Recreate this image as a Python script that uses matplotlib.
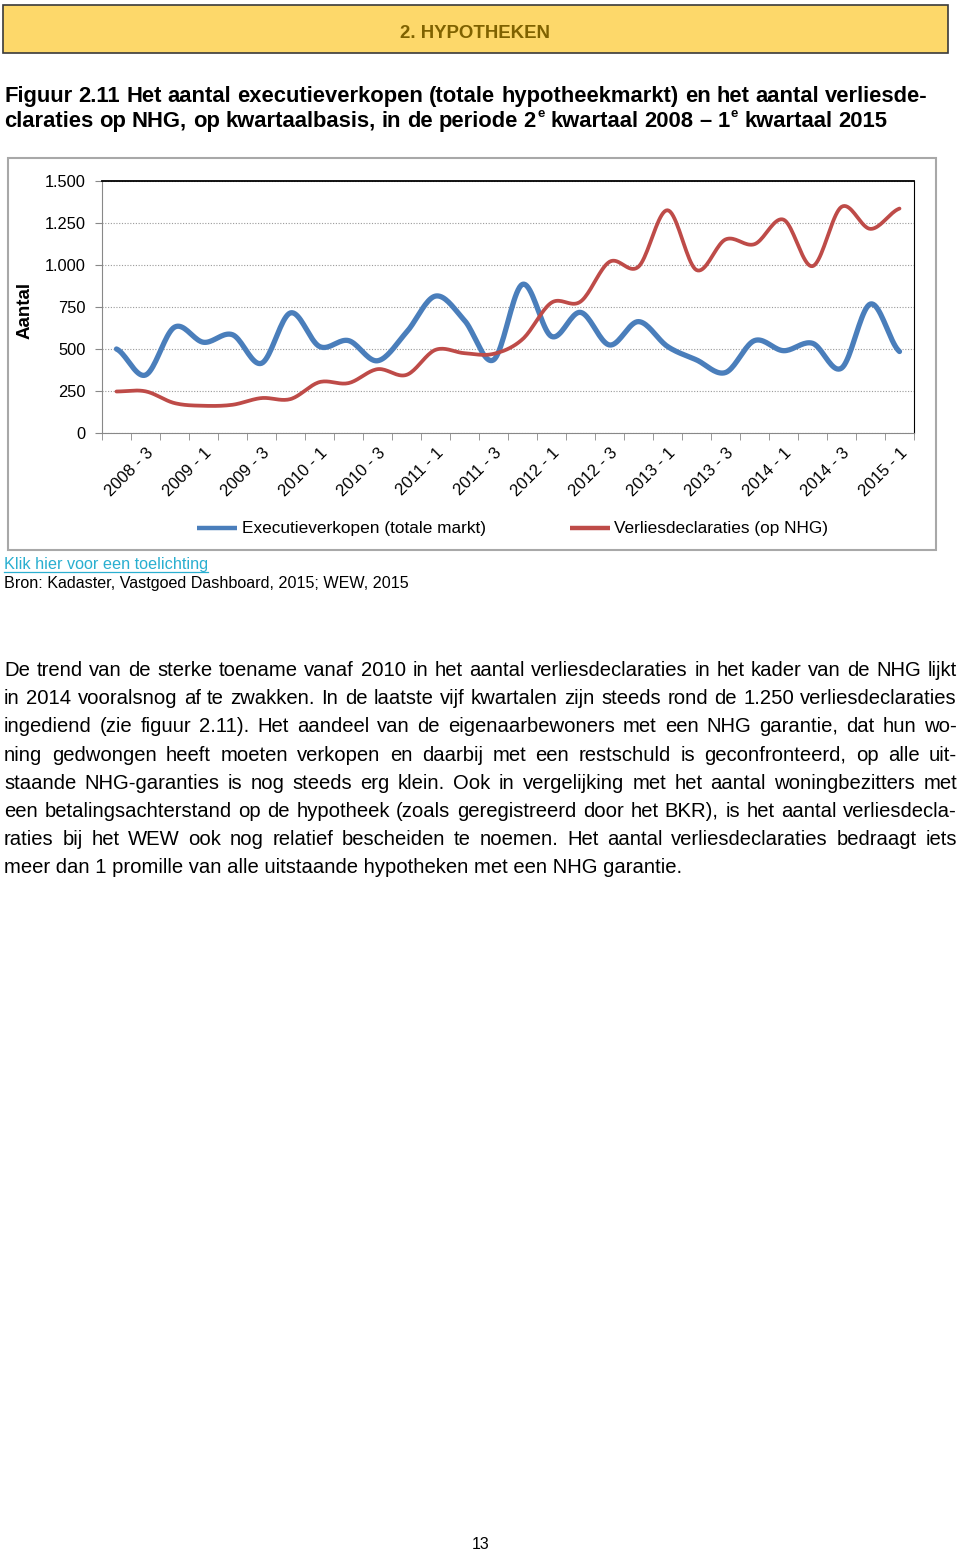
import numpy as np
import matplotlib
matplotlib.use("Agg")
import matplotlib.pyplot as plt
from matplotlib.font_manager import FontProperties
from matplotlib.patches import Rectangle

# data, quarterly 2008-2 .. 2015-1
quarters = [
    "2008 - 2", "2008 - 3", "2008 - 4", "2009 - 1", "2009 - 2", "2009 - 3", "2009 - 4",
    "2010 - 1", "2010 - 2", "2010 - 3", "2010 - 4", "2011 - 1", "2011 - 2", "2011 - 3",
    "2011 - 4", "2012 - 1", "2012 - 2", "2012 - 3", "2012 - 4", "2013 - 1", "2013 - 2",
    "2013 - 3", "2013 - 4", "2014 - 1", "2014 - 2", "2014 - 3", "2014 - 4", "2015 - 1",
]
executie = [500, 345, 630, 540, 585, 415, 715, 515, 550, 430, 600, 815, 670, 435,
            885, 575, 718, 524, 663, 515, 435, 360, 550, 490, 534, 386, 768, 485]
verlies = [247, 248, 178, 162, 168, 208, 202, 303, 297, 380, 346, 495, 475, 471,
           558, 776, 782, 1019, 990, 1326, 970, 1152, 1124, 1270, 993, 1346, 1215, 1336]
yticks = [0, 250, 500, 750, 1000, 1250, 1500]
ytick_labels = ["0", "250", "500", "750", "1.000", "1.250", "1.500"]
series_names = ["Executieverkopen (totale markt)", "Verliesdeclaraties (op NHG)"]

header = "2. HYPOTHEKEN"
caption1 = "Figuur 2.11 Het aantal executieverkopen (totale hypotheekmarkt) en het aantal verliesde-"
caption2 = ["claraties op NHG, op kwartaalbasis, in de periode 2", "e",
            "kwartaal 2008 \u2013 1", "e", "kwartaal 2015"]
link = "Klik hier voor een toelichting"
source = "Bron: Kadaster, Vastgoed Dashboard, 2015; WEW, 2015"
paragraph = [
    "De trend van de sterke toename vanaf 2010 in het aantal verliesdeclaraties in het kader van de NHG lijkt",
    "in 2014 vooralsnog af te zwakken. In de laatste vijf kwartalen zijn steeds rond de 1.250 verliesdeclaraties",
    "ingediend (zie figuur 2.11). Het aandeel van de eigenaarbewoners met een NHG garantie, dat hun wo-",
    "ning gedwongen heeft moeten verkopen en daarbij met een restschuld is geconfronteerd, op alle uit-",
    "staande NHG-garanties is nog steeds erg klein. Ook in vergelijking met het aantal woningbezitters met",
    "een betalingsachterstand op de hypotheek (zoals geregistreerd door het BKR), is het aantal verliesdecla-",
    "raties bij het WEW ook nog relatief bescheiden te noemen. Het aantal verliesdeclaraties bedraagt iets",
    "meer dan 1 promille van alle uitstaande hypotheken met een NHG garantie.",
]
page_number = "13"

FONT = "Liberation Sans"
BLUE = "#4A7EBB"
RED = "#BE4B48"
W, H = 960, 1551

fig = plt.figure(figsize=(W / 100, H / 100), dpi=100)
fig.patch.set_facecolor("white")
R = fig.canvas.get_renderer()

page = fig.add_axes([0, 0, 1, 1])
page.set_xlim(0, W)
page.set_ylim(H, 0)
page.axis("off")


def fp(size, weight="normal"):
    return FontProperties(family=FONT, size=size, weight=weight)


def tw(s, size, weight="normal"):
    w, h, d = R.get_text_width_height_descent(s, fp(size, weight), ismath=False)
    return w


def fit(s, target, weight="normal"):
    return 10 * target / tw(s, 10, weight)


def put(x, y, s, size, weight="normal", color="black", **kw):
    return page.text(x, y, s, fontproperties=fp(size, weight), color=color,
                     va="baseline", **kw)


def justify(line, y, x0, x1, size, weight="normal"):
    words = line.split()
    widths = [tw(w, size, weight) for w in words]
    gap = (x1 - x0 - sum(widths)) / (len(words) - 1)
    x = x0
    for w, wd in zip(words, widths):
        put(x, y, w, size, weight)
        x += wd + gap


def smooth(vals, n=20):
    # bezier smoothing like a spreadsheet "smoothed line"
    y = np.asarray(vals, float)
    yp = np.concatenate([[y[0]], y, [y[-1]]])
    xs, ys = [], []
    t = np.linspace(0, 1, n, endpoint=False)
    for i in range(len(y) - 1):
        p0, p1, p2, p3 = yp[i], yp[i + 1], yp[i + 2], yp[i + 3]
        c1 = p1 + (p2 - p0) / 6
        c2 = p2 - (p3 - p1) / 6
        ys.append((1 - t) ** 3 * p1 + 3 * (1 - t) ** 2 * t * c1
                  + 3 * (1 - t) * t ** 2 * c2 + t ** 3 * p2)
        xs.append(i + t)
    xs.append([len(y) - 1])
    ys.append([y[-1]])
    return np.concatenate(xs), np.concatenate(ys)


# header bar
page.add_patch(Rectangle((3, 5), 945, 48, facecolor="#FDD86A", edgecolor="#3a3a3a", lw=1.2))
put(475, 37.5, header, fit(header, 149, "bold"), "bold", color="#7F6200", ha="center")

# caption
cap_size = fit(" ".join(caption2[::2]), 866, "bold")
justify(caption1, 102, 4, 928, cap_size, "bold")
# second caption line: words (with superscripts) spread to end at x=887
items = []
for k, part in enumerate(caption2):
    if k % 2 == 1:
        items[-1][-1].append(part)
    else:
        for w in part.split():
            items.append([w, []])
widths = []
for w, sups in items:
    wd = tw(w, cap_size, "bold")
    for s in sups:
        wd += 1.5 + tw(s, cap_size * 0.6, "bold")
    widths.append(wd)
gap = (887 - 4 - sum(widths)) / (len(items) - 1)
x = 4
for (w, sups), wd in zip(items, widths):
    put(x, 127, w, cap_size, "bold")
    for s in sups:
        put(x + tw(w, cap_size, "bold") + 1.5, 117, s, cap_size * 0.6, "bold")
    x += wd + gap

# chart frame
page.add_patch(Rectangle((8, 158), 928, 392, facecolor="none", edgecolor="#a8a8a8", lw=1.5))
page.text(25, 310, "Aantal", fontproperties=fp(13.5, "bold"), rotation=90,
          ha="center", va="center")

ax = fig.add_axes([102 / W, 1 - 433 / H, 812 / W, 252 / H])
xb, yb = smooth(executie)
xr, yr = smooth(verlies)
ax.plot(xb, yb, color=BLUE, lw=3.8, solid_capstyle="round", zorder=3)
ax.plot(xr, yr, color=RED, lw=2.7, solid_capstyle="round", zorder=4)
ax.set_xlim(-0.5, len(quarters) - 0.5)
ax.set_ylim(0, 1500)
ax.set_yticks(yticks)
ax.set_yticklabels(ytick_labels, fontproperties=fp(11.8))
ax.yaxis.grid(True, linestyle=(0, (1, 1.5)), color="#9a9a9a", lw=0.8)
ax.set_axisbelow(True)
idx = np.arange(1, len(quarters), 2)
ax.set_xticks(idx)
ax.set_xticklabels([quarters[i] for i in idx], fontproperties=fp(12), rotation=45,
                   ha="right", va="top", rotation_mode="anchor")
ax.set_xticks(np.arange(-0.5, len(quarters), 1), minor=True)
ax.tick_params(axis="x", which="major", length=0, pad=9)
ax.tick_params(axis="x", which="minor", length=5, color="#888888", direction="out")
ax.tick_params(axis="y", length=5, color="#888888", pad=7)
for s in ("left", "bottom"):
    ax.spines[s].set_color("#888888")
ax.spines["top"].set_color("black")
ax.spines["top"].set_linewidth(1.3)
ax.spines["right"].set_color("black")

# legend
leg_size = fit(series_names[0], 245)
for (x0, x1, xt), col, name in zip([(197, 237, 242), (570, 610, 614)], [BLUE, RED], series_names):
    page.plot([x0, x1], [528, 528], color=col, lw=3.2, solid_capstyle="butt")
    page.text(xt, 528, name, fontproperties=fp(leg_size), va="center", ha="left")

# link and source
link_size = fit(link, 204)
put(4, 569, link, link_size, color="#2AAFD0")
page.plot([4, 4 + tw(link, link_size)], [571.5, 571.5], color="#2AAFD0", lw=0.9)
put(4, 588, source, fit(source, 406))

# paragraph
par_size = fit(paragraph[-1], 681)
for k, line in enumerate(paragraph):
    y = 676 + 28.2 * k
    if k < len(paragraph) - 1:
        justify(line, y, 4, 957, par_size)
    else:
        put(4, y, line, par_size)

put(481, 1549, page_number, 11.5, ha="center")

fig.savefig("out.png", dpi=100, facecolor="white")
